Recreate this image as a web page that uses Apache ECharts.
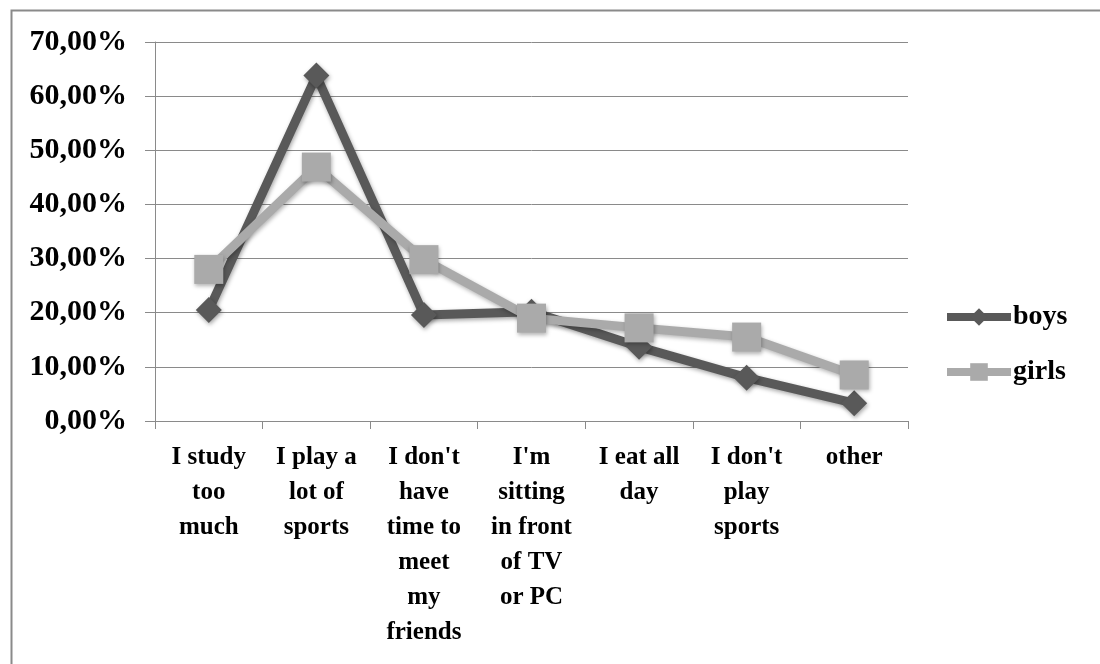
<!DOCTYPE html>
<html>
<head>
<meta charset="utf-8">
<script src="https://cdn.jsdelivr.net/npm/echarts@6/dist/echarts.min.js"></script>
<style>
html,body{margin:0;padding:0;background:#fff;}
#c{width:1100px;height:664px;}
</style>
</head>
<body>
<div id="c"></div>
<script>
const categories = [
  "I study\ntoo\nmuch",
  "I play a\nlot of\nsports",
  "I don't\nhave\ntime to\nmeet\nmy\nfriends",
  "I'm\nsitting\nin front\nof TV\nor PC",
  "I eat all\nday",
  "I don't\nplay\nsports",
  "other"
];
const boys  = [20.5, 63.8, 19.6, 20.2, 13.7, 8.0, 3.3];
const girls = [28.0, 46.9, 29.8, 19.0, 17.2, 15.5, 8.5];
const yTickLabels = ["0,00%","10,00%","20,00%","30,00%","40,00%","50,00%","60,00%","70,00%"];

const serif = "Liberation Serif";
const chart = echarts.init(document.getElementById('c'), null, {renderer:'canvas'});
chart.setOption({
  animation:false,
  backgroundColor:'#ffffff',
  graphic:[{
    type:'rect', left:9, top:8, z:-10, silent:true,
    shape:{x:0,y:0,width:1200,height:800},
    style:{fill:'none', stroke:'#8a8a8a', lineWidth:2}
  }],
  grid:{left:155, right:192, top:42, bottom:243, containLabel:false},
  legend:{
    orient:'vertical', left:938, top:297,
    itemWidth:64, itemHeight:22, itemGap:25,
    data:['boys','girls'],
    lineStyle:{width:8},
    textStyle:{fontFamily:serif, fontWeight:'bold', fontSize:28, color:'#000', lineHeight:30, padding:[0,0,0,-3]}
  },
  xAxis:{
    type:'category', data:categories, boundaryGap:true,
    axisLine:{lineStyle:{color:'#8a8a8a', width:1}},
    axisTick:{show:true, length:8, lineStyle:{color:'#8a8a8a'}},
    axisLabel:{interval:0, margin:19, fontFamily:serif, fontWeight:'bold', fontSize:25, lineHeight:35, color:'#000', align:'center', verticalAlign:'top'},
    splitLine:{show:false}
  },
  yAxis:{
    type:'value', min:0, max:70, interval:10,
    axisLine:{show:true, lineStyle:{color:'#8a8a8a', width:1}},
    axisTick:{show:true, length:10, lineStyle:{color:'#8a8a8a'}},
    splitLine:{show:true, lineStyle:{color:'#8a8a8a', width:1}},
    axisLabel:{margin:28, fontFamily:serif, fontWeight:'bold', fontSize:30, color:'#000',
      formatter:function(v){ return yTickLabels[Math.round(v/10)]; }}
  },
  series:[
    {
      name:'boys', type:'line', data:boys,
      symbol:'diamond', symbolSize:26, z:2,
      lineStyle:{color:'#595959', width:9, shadowColor:'rgba(0,0,0,0.35)', shadowBlur:4, shadowOffsetX:1, shadowOffsetY:2},
      itemStyle:{color:'#595959', borderWidth:0, shadowColor:'rgba(0,0,0,0.35)', shadowBlur:4, shadowOffsetX:1, shadowOffsetY:2}
    },
    {
      name:'girls', type:'line', data:girls,
      symbol:'rect', symbolSize:29, z:3,
      lineStyle:{color:'#aaaaaa', width:9, shadowColor:'rgba(0,0,0,0.3)', shadowBlur:4, shadowOffsetX:1, shadowOffsetY:2},
      itemStyle:{color:'#aaaaaa', borderWidth:0, shadowColor:'rgba(0,0,0,0.3)', shadowBlur:4, shadowOffsetX:1, shadowOffsetY:2}
    }
  ]
});
</script>
</body>
</html>
